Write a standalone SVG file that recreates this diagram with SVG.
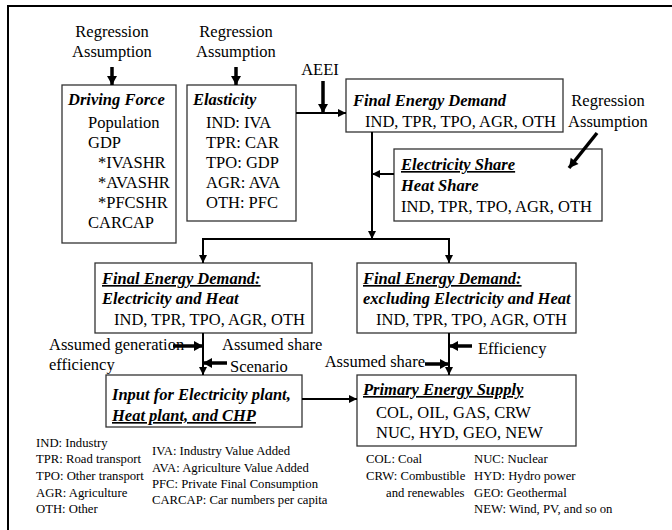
<svg xmlns="http://www.w3.org/2000/svg" width="672" height="530" viewBox="0 0 672 530">
<style>
text{font-family:"Liberation Serif","Tinos","Times New Roman","DejaVu Serif",serif;fill:#000}
.t{font-size:16.5px}
.h{font-size:16.5px;font-weight:bold;font-style:italic}
.u{text-decoration:underline}
.s{font-size:12.7px}
.c{text-anchor:middle}
.box{fill:#fff;stroke:#333;stroke-width:1.3}
.ln{stroke:#000;stroke-width:2;fill:none}
.thk{stroke:#000;stroke-width:3.5;fill:none}
</style>
<defs>
<marker id="a" markerUnits="userSpaceOnUse" markerWidth="10" markerHeight="10" refX="8" refY="4" orient="auto" overflow="visible">
<path d="M0,0 L8,4 L0,8 Z" fill="#000"/>
</marker>
<marker id="b" markerUnits="userSpaceOnUse" markerWidth="12" markerHeight="12" refX="9" refY="5" orient="auto" overflow="visible">
<path d="M0,0 L9,5 L0,10 Z" fill="#000"/>
</marker>
</defs>
<rect x="8" y="6" width="700" height="560" fill="#fff" stroke="#000" stroke-width="2"/>

<g id="labels">
<text class="t c" x="112" y="37" font-family="Liberation Serif, serif">Regression</text>
<text class="t c" x="112" y="57">Assumption</text>
<text class="t c" x="236" y="37">Regression</text>
<text class="t c" x="236" y="57">Assumption</text>
<text class="t c" x="320" y="75">AEEI</text>
<text class="t c" x="608" y="106">Regression</text>
<text class="t c" x="608" y="127">Assumption</text>
<text class="t" x="49" y="350">Assumed generation</text>
<text class="t" x="49" y="370">efficiency</text>
<text class="t" x="222" y="350">Assumed share</text>
<text class="t" x="230" y="372">Scenario</text>
<text class="t" x="425" y="367" text-anchor="end">Assumed share</text>
<text class="t" x="478" y="354">Efficiency</text>
</g>

<g id="driving-force">
<rect class="box" x="62" y="85" width="114" height="158"/>
<text class="h" x="68" y="105">Driving Force</text>
<text class="t" x="88" y="128">Population</text>
<text class="t" x="88" y="148">GDP</text>
<text class="t" x="98" y="168">*IVASHR</text>
<text class="t" x="98" y="188">*AVASHR</text>
<text class="t" x="98" y="208">*PFCSHR</text>
<text class="t" x="88" y="228">CARCAP</text>
</g>

<g id="elasticity">
<rect class="box" x="187" y="85" width="109" height="136"/>
<text class="h" x="193" y="105">Elasticity</text>
<text class="t" x="206" y="128">IND: IVA</text>
<text class="t" x="206" y="148">TPR: CAR</text>
<text class="t" x="206" y="168">TPO: GDP</text>
<text class="t" x="206" y="188">AGR: AVA</text>
<text class="t" x="206" y="208">OTH: PFC</text>
</g>

<g id="final-energy-demand">
<rect class="box" x="346" y="79" width="217" height="53"/>
<text class="h" x="353" y="106">Final Energy Demand</text>
<text class="t" x="365" y="127">IND, TPR, TPO, AGR, OTH</text>
</g>

<g id="electricity-share">
<rect class="box" x="394" y="149" width="208" height="72"/>
<text class="h u" x="401" y="170">Electricity Share</text>
<text class="h" x="401" y="191">Heat Share</text>
<text class="t" x="401" y="212">IND, TPR, TPO, AGR, OTH</text>
</g>

<g id="fed-electricity-heat">
<rect class="box" x="95" y="263" width="217" height="70"/>
<text class="h u" x="102" y="284">Final Energy Demand:</text>
<text class="h" x="102" y="304">Electricity and Heat</text>
<text class="t" x="114" y="325">IND, TPR, TPO, AGR, OTH</text>
</g>

<g id="fed-excluding">
<rect class="box" x="357" y="263" width="219" height="70"/>
<text class="h u" x="363" y="284">Final Energy Demand:</text>
<text class="h" x="363" y="304">excluding Electricity and Heat</text>
<text class="t" x="376" y="325">IND, TPR, TPO, AGR, OTH</text>
</g>

<g id="input-plant">
<rect class="box" x="106" y="375" width="196" height="52"/>
<text class="h" x="112" y="400">Input for Electricity plant,</text>
<text class="h u" x="112" y="421">Heat plant, and CHP</text>
</g>

<g id="primary-energy-supply">
<rect class="box" x="357" y="375" width="219" height="71"/>
<text class="h u" x="363" y="395">Primary Energy Supply</text>
<text class="t" x="376" y="418">COL, OIL, GAS, CRW</text>
<text class="t" x="376" y="438">NUC, HYD, GEO, NEW</text>
</g>

<g id="legend">
<text class="s" x="36" y="447">IND: Industry</text>
<text class="s" x="36" y="463">TPR: Road transport</text>
<text class="s" x="36" y="480">TPO: Other transport</text>
<text class="s" x="36" y="497">AGR: Agriculture</text>
<text class="s" x="36" y="513">OTH: Other</text>
<text class="s" x="152" y="455">IVA: Industry Value Added</text>
<text class="s" x="152" y="472">AVA: Agriculture Value Added</text>
<text class="s" x="152" y="488">PFC: Private Final Consumption</text>
<text class="s" x="152" y="504">CARCAP: Car numbers per capita</text>
<text class="s" x="366" y="463">COL: Coal</text>
<text class="s" x="366" y="480">CRW: Combustible</text>
<text class="s" x="386" y="497">and renewables</text>
<text class="s" x="474" y="463">NUC: Nuclear</text>
<text class="s" x="474" y="480">HYD: Hydro power</text>
<text class="s" x="474" y="497">GEO: Geothermal</text>
<text class="s" x="474" y="513">NEW: Wind, PV, and so on</text>
</g>

<g id="connectors">
<line class="thk" x1="112" y1="67" x2="112" y2="85" marker-end="url(#b)"/>
<line class="thk" x1="236" y1="67" x2="236" y2="85" marker-end="url(#b)"/>
<line class="thk" x1="323" y1="81" x2="323" y2="113" marker-end="url(#b)"/>
<line class="ln" x1="296" y1="113" x2="346" y2="113" marker-end="url(#a)"/>
<line class="thk" x1="597" y1="133" x2="569" y2="168" marker-end="url(#b)"/>
<line class="ln" x1="372" y1="132" x2="372" y2="239" marker-end="url(#a)"/>
<line class="ln" x1="394" y1="174" x2="372" y2="174" marker-end="url(#a)"/>
<line class="ln" x1="202" y1="239" x2="450" y2="239"/>
<line class="ln" x1="203" y1="239" x2="203" y2="263" marker-end="url(#a)"/>
<line class="ln" x1="449" y1="239" x2="449" y2="263" marker-end="url(#a)"/>
<line class="ln" x1="203" y1="333" x2="203" y2="375" marker-end="url(#a)"/>
<line class="thk" x1="173" y1="346" x2="203" y2="346" marker-end="url(#b)"/>
<line class="thk" x1="227" y1="363" x2="203" y2="363" marker-end="url(#b)"/>
<line class="ln" x1="449" y1="333" x2="449" y2="375" marker-end="url(#a)"/>
<line class="thk" x1="472" y1="346" x2="449" y2="346" marker-end="url(#b)"/>
<line class="thk" x1="425" y1="364" x2="449" y2="364" marker-end="url(#b)"/>
<line class="ln" x1="302" y1="399" x2="357" y2="399" marker-end="url(#a)"/>
</g>
</svg>
